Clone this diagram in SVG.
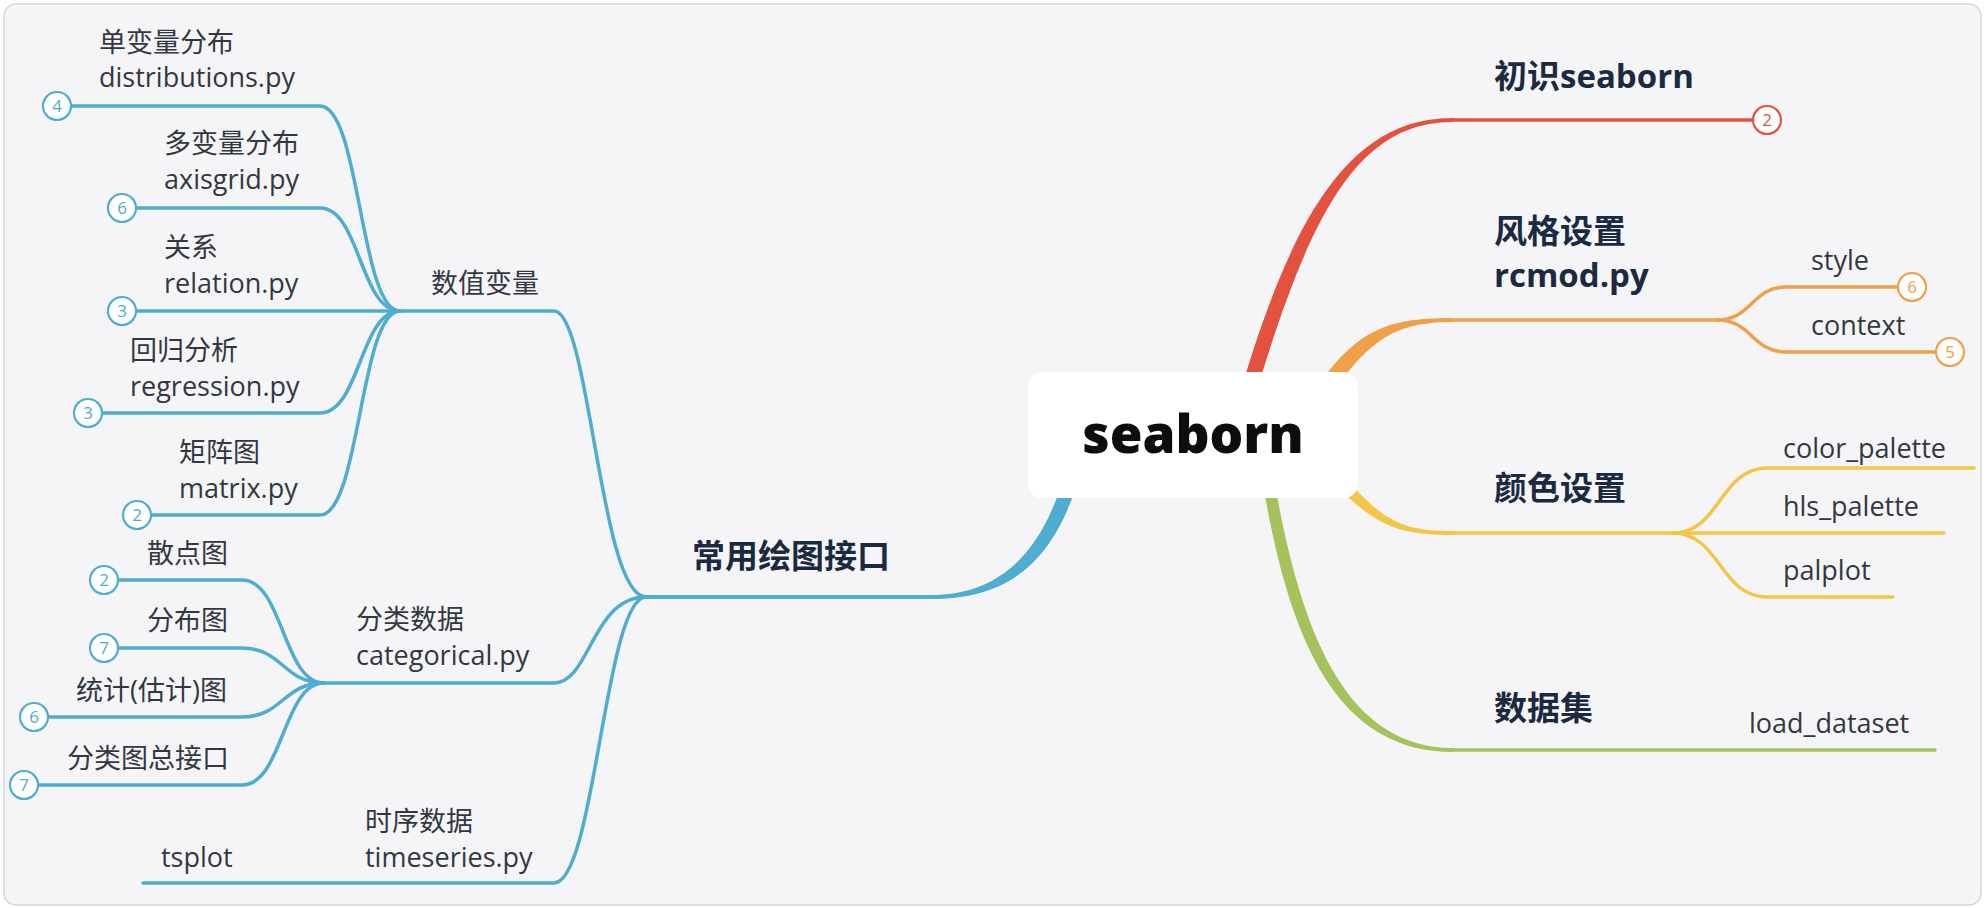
<svg xmlns="http://www.w3.org/2000/svg" width="1986" height="908" viewBox="0 0 1986 908">
<style>
.t{font-family:"Open Sans","Noto Sans CJK SC",sans-serif;font-size:27px;fill:#333840}
.h{font-family:"Open Sans","Noto Sans CJK SC",sans-serif;font-size:33px;font-weight:bold;fill:#1b2a41}
.n{font-family:"Open Sans",sans-serif;font-size:17px;text-anchor:middle}
.bl{fill:none;stroke:#4eadd0;stroke-width:3.5;stroke-linecap:round}
.rd{fill:none;stroke:#e2523f;stroke-width:3.5;stroke-linecap:round}
.or{fill:none;stroke:#f0a048;stroke-width:3.5;stroke-linecap:round}
.ye{fill:none;stroke:#f5c547;stroke-width:3.5;stroke-linecap:round}
.gr{fill:none;stroke:#a6c25c;stroke-width:3.5;stroke-linecap:round}
.cb{fill:#ffffff;stroke:#4eadd0;stroke-width:2.2}
.cr{fill:#ffffff;stroke:#e2523f;stroke-width:2.2}
.co{fill:#ffffff;stroke:#f0a048;stroke-width:2.2}
</style>
<rect x="0" y="0" width="1986" height="908" fill="#ffffff"/>
<rect x="4" y="4" width="1977" height="901" rx="12" fill="#f5f5f8" stroke="#d6d6da" stroke-width="1.5"/>
<g id="connectors">
  <path d="M1244,380 C1298,200 1358,118 1453,118 L1453,122 C1362,122 1314,204 1260,380 Z" fill="#e2523f"/>
  <path d="M1328,372 C1364,326 1396,318 1453,318 L1453,322 C1404,322 1376,334 1342,380 Z" fill="#f0a048"/>
  <path d="M1353,486 C1388,526 1412,531 1453,531 L1453,535 C1408,535 1382,530 1345,494 Z" fill="#f5c547"/>
  <path d="M1264,490 C1289,634 1334,752 1453,752 L1453,748 C1344,748 1301,628 1276,490 Z" fill="#a6c25c"/>
  <path d="M1075,490 C1046,576 994,599 931,599 L931,595 C986,595 1034,568 1061,486 Z" fill="#4eadd0"/>
  <path class="rd" d="M1453,120 L1752,120"/>
  <path class="or" d="M1453,320 L1717,320"/>
  <path class="or" d="M1717,320 C1752,320 1752,287 1786,287 L1897,287"/>
  <path class="or" d="M1717,320 C1752,320 1752,352 1786,352 L1935,352"/>
  <path class="ye" d="M1453,533 L1673,533"/>
  <path class="ye" d="M1673,533 C1720,533 1720,468 1767,468 L1974,468"/>
  <path class="ye" d="M1673,533 L1944,533"/>
  <path class="ye" d="M1673,533 C1720,533 1720,597 1767,597 L1893,597"/>
  <path class="gr" d="M1453,750 L1935,750"/>
  <path class="bl" style="stroke-width:4" d="M931,597 L646,597"/>
  <path class="bl" d="M646,597 C600,597 590,311 554,311 L400,311"/>
  <path class="bl" d="M646,597 C592,597 590,683 554,683 L324,683"/>
  <path class="bl" d="M646,597 C605,597 595,883 554,883 L143,883"/>
  <path class="bl" d="M71,106 L320,106 C360,106 360,311 400,311"/>
  <path class="bl" d="M136,208 L320,208 C360,208 360,311 400,311"/>
  <path class="bl" d="M136,311 L400,311"/>
  <path class="bl" d="M102,413 L320,413 C360,413 360,311 400,311"/>
  <path class="bl" d="M151,515 L320,515 C360,515 360,311 400,311"/>
  <path class="bl" d="M118,580 L242,580 C283,580 283,683 324,683"/>
  <path class="bl" d="M118,648 L242,648 C283,648 283,683 324,683"/>
  <path class="bl" d="M48,717 L242,717 C283,717 283,683 324,683"/>
  <path class="bl" d="M38,785 L242,785 C283,785 283,683 324,683"/>
</g>
<g id="root">
  <rect x="1028" y="372" width="330" height="126" rx="14" fill="#ffffff"/>
  <text x="1193" y="453" text-anchor="middle" style="font-family:'Open Sans',sans-serif;font-size:53px;font-weight:800;fill:#0d0d0d">seaborn</text>
</g>
<g id="n-intro">
  <text class="h" x="1494" y="88">初识seaborn</text>
  <circle class="cr" cx="1767" cy="120" r="14"/><text class="n" x="1767" y="126" fill="#e2523f">2</text>
</g>
<g id="n-style">
  <text class="h" x="1494" y="243">风格设置</text>
  <text class="h" x="1494" y="287">rcmod.py</text>
</g>
<g id="n-style-style">
  <text class="t" x="1811" y="270">style</text>
  <circle class="co" cx="1912" cy="287" r="14"/><text class="n" x="1912" y="293" fill="#f0a048">6</text>
</g>
<g id="n-style-context">
  <text class="t" x="1811" y="335">context</text>
  <circle class="co" cx="1950" cy="352" r="14"/><text class="n" x="1950" y="358" fill="#f0a048">5</text>
</g>
<g id="n-color"><text class="h" x="1494" y="500">颜色设置</text></g>
<g id="n-color-palette"><text class="t" x="1783" y="458">color_palette</text></g>
<g id="n-hls"><text class="t" x="1783" y="516">hls_palette</text></g>
<g id="n-palplot"><text class="t" x="1783" y="580">palplot</text></g>
<g id="n-data"><text class="h" x="1494" y="720">数据集</text></g>
<g id="n-load"><text class="t" x="1749" y="733">load_dataset</text></g>
<g id="n-plot"><text class="h" x="692" y="568">常用绘图接口</text></g>
<g id="n-num"><text class="t" x="431" y="293">数值变量</text></g>
<g id="n-dist">
  <text class="t" x="99" y="52">单变量分布</text><text class="t" x="99" y="87">distributions.py</text>
  <circle class="cb" cx="57" cy="106" r="14"/><text class="n" x="57" y="112" fill="#4eadd0">4</text>
</g>
<g id="n-axis">
  <text class="t" x="164" y="153">多变量分布</text><text class="t" x="164" y="189">axisgrid.py</text>
  <circle class="cb" cx="122" cy="208" r="14"/><text class="n" x="122" y="214" fill="#4eadd0">6</text>
</g>
<g id="n-rel">
  <text class="t" x="164" y="257">关系</text><text class="t" x="164" y="293">relation.py</text>
  <circle class="cb" cx="122" cy="311" r="14"/><text class="n" x="122" y="317" fill="#4eadd0">3</text>
</g>
<g id="n-reg">
  <text class="t" x="130" y="360">回归分析</text><text class="t" x="130" y="396">regression.py</text>
  <circle class="cb" cx="88" cy="413" r="14"/><text class="n" x="88" y="419" fill="#4eadd0">3</text>
</g>
<g id="n-mat">
  <text class="t" x="179" y="462">矩阵图</text><text class="t" x="179" y="498">matrix.py</text>
  <circle class="cb" cx="137" cy="515" r="14"/><text class="n" x="137" y="521" fill="#4eadd0">2</text>
</g>
<g id="n-cat"><text class="t" x="356" y="629">分类数据</text><text class="t" x="356" y="665">categorical.py</text></g>
<g id="n-scatter">
  <text class="t" x="147" y="563">散点图</text>
  <circle class="cb" cx="104" cy="580" r="14"/><text class="n" x="104" y="586" fill="#4eadd0">2</text>
</g>
<g id="n-distplot">
  <text class="t" x="147" y="630">分布图</text>
  <circle class="cb" cx="104" cy="648" r="14"/><text class="n" x="104" y="654" fill="#4eadd0">7</text>
</g>
<g id="n-stat">
  <text class="t" x="76" y="700">统计(估计)图</text>
  <circle class="cb" cx="34" cy="717" r="14"/><text class="n" x="34" y="723" fill="#4eadd0">6</text>
</g>
<g id="n-catall">
  <text class="t" x="67" y="768">分类图总接口</text>
  <circle class="cb" cx="24" cy="785" r="14"/><text class="n" x="24" y="791" fill="#4eadd0">7</text>
</g>
<g id="n-ts"><text class="t" x="365" y="831">时序数据</text><text class="t" x="365" y="867">timeseries.py</text></g>
<g id="n-tsplot"><text class="t" x="161" y="867">tsplot</text></g>
</svg>
